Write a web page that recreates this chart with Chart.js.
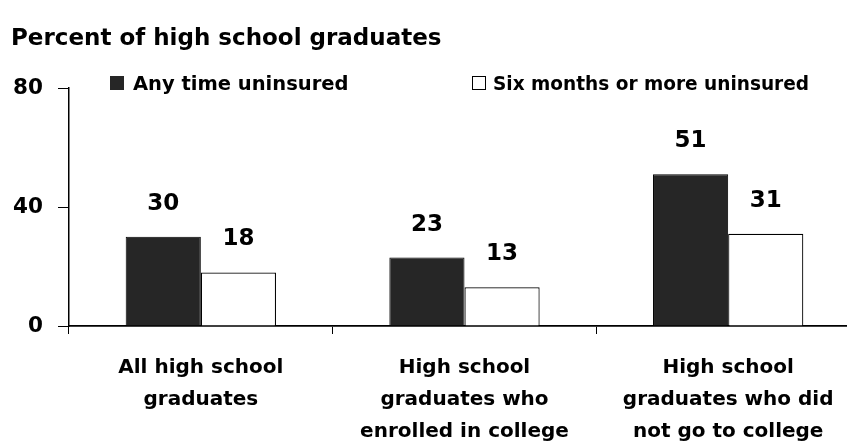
<!DOCTYPE html>
<html>
<head>
<meta charset="utf-8">
<script src="https://cdn.jsdelivr.net/npm/chart.js@4.4.1/dist/chart.umd.min.js"></script>
<style>
  html, body { margin: 0; padding: 0; background: #fff; overflow: hidden; }
  canvas { display: block; }
</style>
</head>
<body>
<canvas id="uninsuredChart" width="870" height="443"></canvas>
<script>
const categories = [
    ['All high school', 'graduates'],
    ['High school', 'graduates who', 'enrolled in college'],
    ['High school', 'graduates who did', 'not go to college']
];
const seriesNames = ['Any time uninsured', 'Six months or more uninsured'];
const anyTimeValues = [30, 23, 51];
const sixMonthValues = [18, 13, 31];
const yTicks = [0, 40, 80];
const chartTitle = 'Percent of high school graduates';

const FONT = '"DejaVu Sans", Arial, sans-serif';
const DARK = '#262626';

// title + legend drawn by hand so they can sit where the original has them
const headerPlugin = {
    id: 'header',
    afterDraw(chart) {
        const ctx = chart.ctx;
        ctx.save();
        ctx.fillStyle = '#000';
        ctx.textBaseline = 'alphabetic';
        ctx.textAlign = 'left';

        ctx.font = 'bold 23px ' + FONT;
        ctx.fillText(chartTitle, 11, 45);

        ctx.font = 'bold 19.5px ' + FONT;
        // first legend item
        ctx.fillStyle = DARK;
        ctx.fillRect(110, 76, 14, 14);
        ctx.fillStyle = '#000';
        ctx.fillText(seriesNames[0], 133, 90, 222);
        // second legend item
        ctx.strokeStyle = '#000';
        ctx.lineWidth = 1;
        ctx.strokeRect(472.5, 76.5, 13, 13);
        ctx.fillText(seriesNames[1], 493, 90, 316);
        ctx.restore();
    }
};

const valueLabels = {
    id: 'valueLabels',
    afterDatasetsDraw(chart) {
        const ctx = chart.ctx;
        ctx.save();
        ctx.font = 'bold 23px ' + FONT;
        ctx.fillStyle = '#000';
        ctx.textAlign = 'center';
        ctx.textBaseline = 'middle';
        chart.data.datasets.forEach((ds, i) => {
            chart.getDatasetMeta(i).data.forEach((bar, j) => {
                ctx.fillText(String(ds.data[j]), bar.x, bar.y - 33);
            });
        });
        ctx.restore();
    }
};

const ctx = document.getElementById('uninsuredChart').getContext('2d');
new Chart(ctx, {
    type: 'bar',
    data: {
        labels: categories,
        datasets: [{
            label: seriesNames[0],
            data: anyTimeValues,
            backgroundColor: DARK,
            borderColor: '#000',
            borderWidth: 1
        }, {
            label: seriesNames[1],
            data: sixMonthValues,
            backgroundColor: '#fff',
            borderColor: '#000',
            borderWidth: 1.2
        }]
    },
    options: {
        responsive: false,
        animation: false,
        layout: { padding: { top: 88, right: 10, left: 0, bottom: 0 } },
        categoryPercentage: 0.57,
        barPercentage: 1,
        plugins: {
            legend: { display: false },
            tooltip: { enabled: false }
        },
        scales: {
            x: {
                grid: {
                    offset: true,
                    drawOnChartArea: false,
                    color: '#000',
                    tickLength: 8
                },
                border: { color: '#000', width: 1.8 },
                ticks: {
                    color: '#000',
                    padding: 18,
                    maxRotation: 0,
                    autoSkip: false,
                    font: { family: FONT, size: 20, weight: 'bold', lineHeight: 1.6 }
                },
                afterFit(scale) { scale.height = 117; }
            },
            y: {
                min: 0,
                max: 80,
                afterBuildTicks(scale) {
                    scale.ticks = yTicks.map(v => ({ value: v }));
                },
                grid: {
                    drawOnChartArea: false,
                    color: '#000',
                    tickLength: 11
                },
                border: { color: '#000', width: 1.5 },
                ticks: {
                    color: '#000',
                    padding: 15,
                    font: { family: FONT, size: 21.5, weight: 'bold' }
                },
                afterFit(scale) { scale.width = 69; }
            }
        }
    },
    plugins: [headerPlugin, valueLabels]
});
</script>
</body>
</html>
